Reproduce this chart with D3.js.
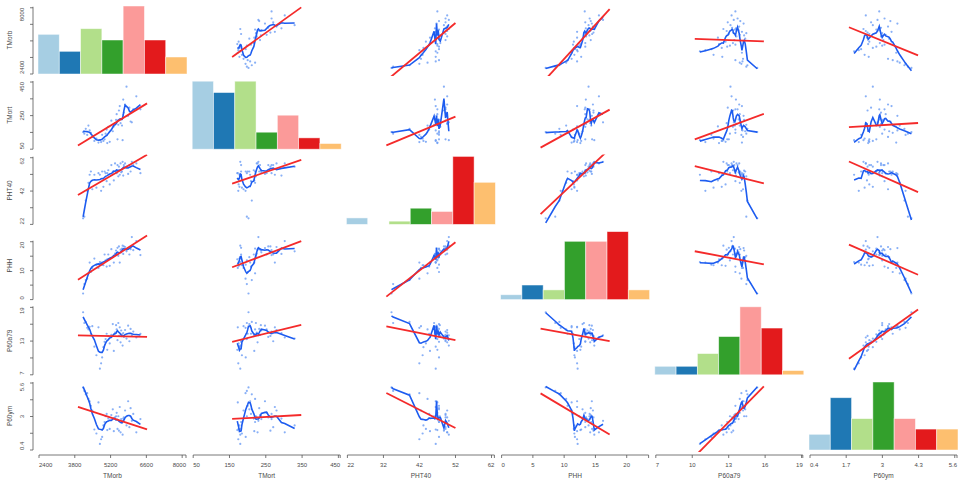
<!DOCTYPE html>
<html><head><meta charset="utf-8">
<script src="https://cdn.jsdelivr.net/npm/d3@7"></script>
<style>body{margin:0;background:#fff;} svg{display:block;font-family:"Liberation Sans",Arial,sans-serif;}</style>
</head><body><svg id="chart" width="965" height="482"></svg>
<script>
// ---- data (46 observations) ----
const names = ["TMorb","TMort","PHT40","PHH","P60a79","P60ym"];
const TMorb  = [4000,4060,4130,4200,4260,4320,4380,4450,4550,4650,4750,4820,4880,4930,4990,5050,5100,5150,5180,5230,5300,5380,5450,5500,5560,5610,5640,5680,5720,5750,5790,5830,5860,5900,5930,5960,5990,6050,6120,6200,6260,6320,6380,6450,6600,6800];
const TMort  = [150,140,170,132,190,160,145,120,95,110,85,100,88,133,95,105,140,165,82,182,90,220,155,185,200,225,260,105,195,283,310,205,228,190,100,350,270,320,430,250,300,215,210,290,370,290];
const PHT40  = [23,24,34,40,45,50,52,41,50,42,51,50,40,52,42.5,52,51,46,51,52.8,44,56,52,46.5,57,52.5,51,56,49,55,50,57,51.5,52,58,49.5,56,57,55,50.5,56,52,58,56,57,51];
const PHH    = [1.5,5.0,6.5,7.0,9.0,13.0,9.5,11.0,14.5,12.0,11.0,13.2,13.0,12.2,12.0,16.0,13.8,11.5,14.2,16.0,11.8,18.0,15.0,13.0,16.3,17.5,16.0,18.5,15.5,19.0,13.0,17.8,16.8,18.2,19.3,16.2,19.0,18.8,17.2,18.4,16.0,18.0,22.5,17.6,21.0,15.8];
const P60a79 = [18.0,16.0,16.2,15.1,14.8,15.3,14.0,15.4,11.6,10.0,15.2,7.5,8.5,9.6,11.5,12.5,13.0,14.0,11.0,13.55,12.2,13.8,15.8,10.8,14.2,15.6,14.8,12.8,16.0,13.6,15.2,12.4,14.6,13.9,11.8,14.1,13.4,14.7,13.1,15.5,12.6,14.9,13.7,14.4,13.3,14.0];
const P60ym  = [5.5,5.2,4.9,5.0,4.5,4.3,3.9,3.5,1.85,1.5,4.2,0.6,1.0,1.2,2.2,2.5,3.0,3.2,1.8,2.8,1.9,3.1,3.6,1.7,2.9,3.0,3.3,1.9,3.0,1.75,3.8,1.6,2.75,2.5,1.4,2.8,2.9,3.5,2.2,4.3,2.05,3.7,2.6,3.2,1.6,2.75];

// axis tick labels
const ticksTMorb  = [2400,3800,5200,6600,8000];
const ticksTMort  = [50,150,250,350,450];
const ticksPHT40  = [22,32,42,52,62];
const ticksPHH    = [0,5,10,15,20];
const ticksP60a79 = [7,10,13,16,19];
const ticksP60ym  = [0.4,1.7,3,4.3,5.6];
const axisEnd = [8150, 455, 62.8, 23.5, 19.1, 5.68];
const yLabelShown = [[0,4],[0,2,4],[0,2,4],[0,2,4],[0,2,4],[0,2,4]];
const barColors = ["#A6CEE3","#1F78B4","#B2DF8A","#33A02C","#FB9A99","#E31A1C","#FDBF6F"];

const data = [TMorb,TMort,PHT40,PHH,P60a79,P60ym];
const ticks = [ticksTMorb,ticksTMort,ticksPHT40,ticksPHH,ticksP60a79,ticksP60ym];

// ---- layout ----
const W = 147, H = 68;
const colX = c => 39 + c*154.2;
const rowB = r => 74 + r*75.2;
const svg = d3.select("#chart");
const textCol = "#4a4a4a", axisCol = "#555";

function loess(xs, ys, span){
  const pts = xs.map((x,i)=>[x,ys[i]]).sort((a,b)=>a[0]-b[0]);
  const n = pts.length, k = Math.max(4, Math.round(span*n));
  return pts.map(([x0])=>{
    const d = pts.map(p=>Math.abs(p[0]-x0));
    const h = d.slice().sort((a,b)=>a-b)[k-1]*1.0001 + 1e-9;
    let sw=0,sx=0,sy=0,sxx=0,sxy=0;
    pts.forEach((p,j)=>{const u=d[j]/h; if(u<1){const w=Math.pow(1-u*u*u,3); sw+=w; sx+=w*p[0]; sy+=w*p[1]; sxx+=w*p[0]*p[0]; sxy+=w*p[0]*p[1];}});
    const mx=sx/sw, my=sy/sw, vx=sxx/sw-mx*mx;
    const b = vx>1e-9 ? (sxy/sw-mx*my)/vx : 0;
    return [x0, my + b*(x0-mx)];
  });
}
function linfit(xs, ys){
  const mx=d3.mean(xs), my=d3.mean(ys);
  let sxy=0,sxx=0; xs.forEach((x,i)=>{sxy+=(x-mx)*(ys[i]-my); sxx+=(x-mx)*(x-mx);});
  const b=sxy/sxx; return x=>my+b*(x-mx);
}

const defs = svg.append("defs");
for(let r=0;r<6;r++){
  for(let c=0;c<6;c++){
    const x0 = colX(c), yb = rowB(r), yt = yb - H;
    const g = svg.append("g");
    if(r===c){
      const v = data[r], ext = d3.extent(v);
      const counts = new Array(7).fill(0);
      v.forEach(d=>{counts[Math.min(6, Math.floor((d-ext[0])/(ext[1]-ext[0])*7))]++;});
      const bx = d3.scaleBand().domain(d3.range(7)).range([x0-1, x0+W+1]).padding(0);
      const by = d3.scaleLinear().domain([0, d3.max(counts)]).range([yb, yt]);
      g.selectAll("rect").data(counts).join("rect")
        .attr("x",(d,i)=>bx(i)).attr("width",bx.bandwidth())
        .attr("y",d=>by(d)).attr("height",d=>yb-by(d))
        .attr("fill",(d,i)=>barColors[i]).attr("stroke","#fff").attr("stroke-opacity",0.6).attr("stroke-width",0.8);
      continue;
    }
    const xs = data[c], ys = data[r];
    const sx = d3.scaleLinear().domain(d3.extent(xs)).range([x0+0.30*W, x0+0.69*W]);
    const sy = d3.scaleLinear().domain(d3.extent(ys)).range([yt+0.91*H, yt+0.08*H]);
    const cid = `clip${r}${c}`;
    defs.append("clipPath").attr("id",cid).append("rect").attr("x",x0).attr("y",yt-2).attr("width",W).attr("height",H+4);
    g.attr("clip-path",`url(#${cid})`);
    g.selectAll("circle").data(xs.map((x,i)=>[x,ys[i]])).join("circle")
      .attr("cx",d=>sx(d[0])).attr("cy",d=>sy(d[1])).attr("r",1.1)
      .attr("fill","#6c9cf4").attr("opacity",0.8);
    const sm = loess(xs, ys, 0.22);
    g.append("path").attr("d", d3.line().x(d=>sx(d[0])).y(d=>sy(d[1]))(sm))
      .attr("fill","none").attr("stroke","#1d5cf0").attr("stroke-width",1.6);
    const f = linfit(xs, ys);
    const xa = sx.invert(x0+0.265*W), xb = sx.invert(x0+0.735*W);
    g.append("line").attr("x1",sx(xa)).attr("y1",sy(f(xa))).attr("x2",sx(xb)).attr("y2",sy(f(xb)))
      .attr("stroke","#f42a2a").attr("stroke-width",1.8);
  }
}

// ---- axes ----
const axY = 455;
for(let c=0;c<6;c++){
  const x0 = colX(c);
  const s = d3.scaleLinear().domain([ticks[c][0], axisEnd[c]]).range([x0, x0+W]);
  const g = svg.append("g");
  g.append("line").attr("x1",x0).attr("x2",x0+W).attr("y1",axY).attr("y2",axY).attr("stroke",axisCol).attr("stroke-width",0.8);
  ticks[c].forEach(t=>{
    g.append("line").attr("x1",s(t)).attr("x2",s(t)).attr("y1",axY).attr("y2",axY+3).attr("stroke",axisCol).attr("stroke-width",0.8);
    const tx = g.append("text").text(t).attr("y",axY+12).attr("font-size",6).attr("fill",textCol).attr("text-anchor","middle");
    const L = tx.node().getComputedTextLength();
    tx.attr("x", Math.max(x0+L/2, Math.min(x0+W-L/2, s(t))));
  });
  g.append("line").attr("x1",x0+W).attr("x2",x0+W).attr("y1",axY).attr("y2",axY+3).attr("stroke",axisCol).attr("stroke-width",0.8);
  g.append("text").text(names[c]).attr("x",x0+W/2).attr("y",478).attr("font-size",6.5).attr("fill",textCol).attr("text-anchor","middle");
}
const axX = 33;
for(let r=0;r<6;r++){
  const yb = rowB(r), yt = yb - H;
  const s = d3.scaleLinear().domain([ticks[r][0], axisEnd[r]]).range([yb, yt]);
  const g = svg.append("g");
  const tTop = s(ticks[r][4]);
  g.append("line").attr("x1",axX).attr("x2",axX).attr("y1",yb).attr("y2",tTop-1).attr("stroke",axisCol).attr("stroke-width",0.8);
  ticks[r].forEach((t,i)=>{
    g.append("line").attr("x1",axX-3).attr("x2",axX).attr("y1",s(t)).attr("y2",s(t)).attr("stroke",axisCol).attr("stroke-width",0.8);
    if(yLabelShown[r].includes(i)){
      const tx = g.append("text").text(t).attr("font-size",6).attr("fill",textCol).attr("text-anchor","middle");
      const L = tx.node().getComputedTextLength();
      const yy = Math.max(tTop+L/2, Math.min(yb-L/2, s(t)));
      tx.attr("transform",`translate(23.5,${yy}) rotate(-90)`);
    }
  });
  g.append("text").text(names[r]).attr("font-size",6.5).attr("fill",textCol).attr("text-anchor","middle")
    .attr("transform",`translate(12,${(yb+yt)/2}) rotate(-90)`);
}
</script></body></html>
